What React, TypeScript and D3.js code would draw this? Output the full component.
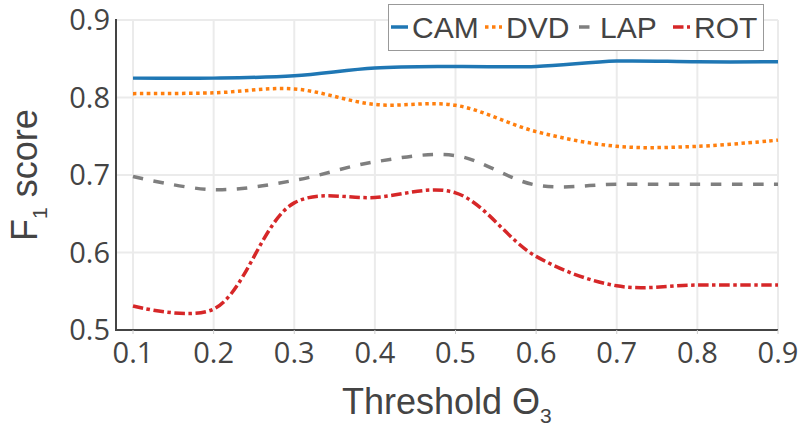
import React, { useEffect, useRef } from 'react';
import * as d3 from 'd3';

const thresholds = [0.1, 0.2, 0.3, 0.4, 0.5, 0.6, 0.7, 0.8, 0.9];
const camScores = [0.825, 0.825, 0.828, 0.838, 0.840, 0.840, 0.847, 0.846, 0.846];
const dvdScores = [0.805, 0.806, 0.811, 0.791, 0.790, 0.756, 0.737, 0.737, 0.745];
const lapScores = [0.698, 0.681, 0.693, 0.717, 0.725, 0.687, 0.688, 0.688, 0.688];
const rotScores = [0.531, 0.527, 0.664, 0.671, 0.677, 0.595, 0.557, 0.558, 0.558];
const seriesNames = ['CAM', 'DVD', 'LAP', 'ROT'];
const xTicks = [0.1, 0.2, 0.3, 0.4, 0.5, 0.6, 0.7, 0.8, 0.9];
const yTicks = [0.5, 0.6, 0.7, 0.8, 0.9];

const TICK_FONT = '"Open Sans", sans-serif';
const FONT = '"Liberation Sans", Arial, sans-serif';
const TEXT = '#444';

export default function App() {
  const svgRef = useRef<SVGSVGElement>(null);

  useEffect(() => {
    if (!svgRef.current) return;
    const svg = d3.select(svgRef.current);
    svg.selectAll('*').remove();

    const left = 116, right = 778, top = 20, bottom = 330;
    const x = d3.scaleLinear().domain([0.1, 0.9]).range([133, 778]);
    const y = d3.scaleLinear().domain([0.5, 0.9]).range([bottom, top]);

    const lw = 3.5;
    const styles = [
      { color: '#1f77b4', dash: 'none' },
      { color: '#ff7f0e', dash: `${lw},${lw}` },
      { color: '#7f7f7f', dash: `${3 * lw},${3 * lw}` },
      { color: '#d62728', dash: `${3 * lw},${lw},${lw},${lw}` },
    ];
    const allSeries = [camScores, dvdScores, lapScores, rotScores];

    // grid
    svg.append('g').selectAll('line').data(xTicks).enter().append('line')
      .attr('x1', d => x(d)).attr('x2', d => x(d))
      .attr('y1', top).attr('y2', bottom)
      .attr('stroke', '#ebebeb').attr('stroke-width', 2);
    svg.append('g').selectAll('line').data(yTicks).enter().append('line')
      .attr('x1', left).attr('x2', right)
      .attr('y1', d => y(d)).attr('y2', d => y(d))
      .attr('stroke', '#ebebeb').attr('stroke-width', 2);

    // lines
    const line = d3.line<number>()
      .x((d, i) => x(thresholds[i]))
      .y(d => y(d))
      .curve(d3.curveCatmullRom.alpha(0.5));

    allSeries.forEach((s, k) => {
      svg.append('path')
        .datum(s)
        .attr('d', line)
        .attr('fill', 'none')
        .attr('stroke', styles[k].color)
        .attr('stroke-width', lw)
        .attr('stroke-dasharray', styles[k].dash);
    });

    // axes
    svg.append('line').attr('x1', left).attr('x2', left).attr('y1', top - 1).attr('y2', bottom + 1)
      .attr('stroke', TEXT).attr('stroke-width', 2);
    svg.append('line').attr('x1', left - 1).attr('x2', right).attr('y1', bottom).attr('y2', bottom)
      .attr('stroke', TEXT).attr('stroke-width', 2);
    svg.append('g').selectAll('line').data(xTicks).enter().append('line')
      .attr('x1', d => x(d)).attr('x2', d => x(d))
      .attr('y1', bottom).attr('y2', bottom + 4)
      .attr('stroke', '#ccc').attr('stroke-width', 1);

    svg.append('g').selectAll('text').data(xTicks).enter().append('text')
      .attr('x', d => x(d)).attr('y', 363)
      .attr('text-anchor', 'middle')
      .attr('font-family', TICK_FONT).attr('font-size', 29).attr('fill', TEXT)
      .text(d => d3.format('.1f')(d));
    svg.append('g').selectAll('text').data(yTicks).enter().append('text')
      .attr('x', 110).attr('y', d => y(d)).attr('dy', '0.36em')
      .attr('text-anchor', 'end')
      .attr('font-family', TICK_FONT).attr('font-size', 29).attr('fill', TEXT)
      .text(d => d3.format('.1f')(d));

    // axis titles
    const xt = svg.append('text')
      .attr('x', 342).attr('y', 414)
      .attr('font-family', FONT).attr('font-size', 36).attr('fill', TEXT);
    xt.append('tspan').text('Threshold Θ');
    xt.append('tspan').attr('dy', 9).attr('font-size', 21).text('3');

    const yt = svg.append('text')
      .attr('transform', 'translate(37,241) rotate(-90)')
      .attr('font-family', FONT).attr('font-size', 36).attr('fill', TEXT);
    yt.append('tspan').text('F');
    yt.append('tspan').attr('dy', 10).attr('font-size', 21).text('1');
    yt.append('tspan').attr('dy', -10).text(' score');

    // legend
    const legend = svg.append('g');
    legend.append('rect')
      .attr('x', 388.5).attr('y', 4.5).attr('width', 375).attr('height', 46)
      .attr('fill', 'white').attr('stroke', '#999').attr('stroke-width', 1);
    seriesNames.forEach((name, k) => {
      const x0 = 391 + k * 94;
      legend.append('line')
        .attr('x1', x0).attr('x2', x0 + 17).attr('y1', 27).attr('y2', 27)
        .attr('stroke', styles[k].color).attr('stroke-width', lw)
        .attr('stroke-dasharray', styles[k].dash);
      legend.append('text')
        .attr('x', x0 + 21).attr('y', 27).attr('dy', '0.36em')
        .attr('font-family', FONT).attr('font-size', 30).attr('fill', TEXT)
        .text(name);
    });
  }, []);

  return (
    <svg ref={svgRef} width={801} height={427}
      style={{ position: 'absolute', left: 0, top: 0, background: 'white' }} />
  );
}
